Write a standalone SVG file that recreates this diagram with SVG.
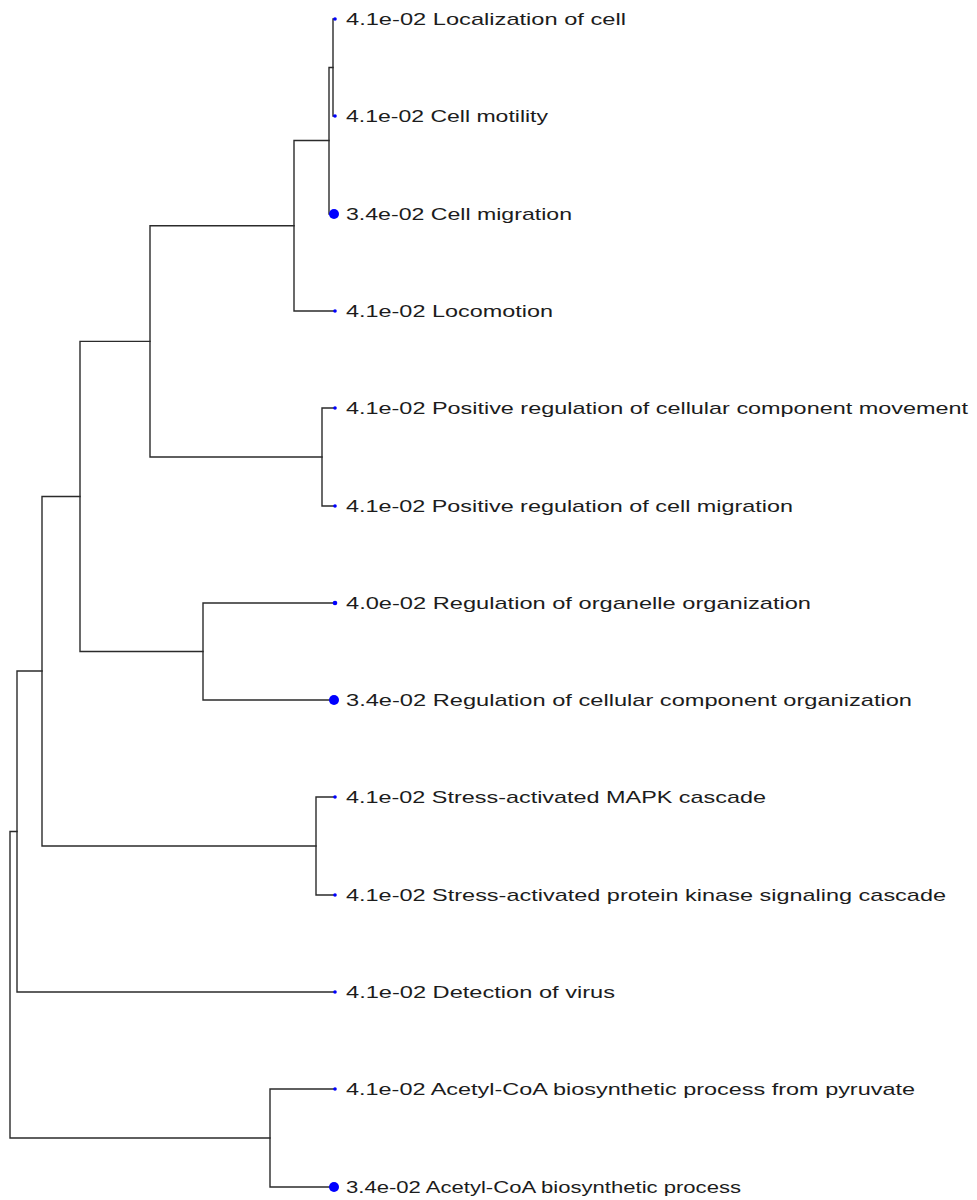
<svg xmlns="http://www.w3.org/2000/svg" width="977" height="1200" viewBox="0 0 977 1200">
  <style>
    .edge { fill: none; stroke: #2b2b2b; stroke-width: 1.4; stroke-linecap: square; }
    .dot { fill: #0000ff; }
    .lbl { font-family: "Liberation Sans", Arial, sans-serif; font-size: 17px; fill: #1c1c1c; }
  </style>
  <rect width="977" height="1200" fill="#ffffff"/>

  <!-- dendrogram branches -->
  <g id="connectors" class="edge">
    <path d="M335,19 H333 V116 H335"/>
    <path d="M333,67.5 H329 V214 H335"/>
    <path d="M329,140.5 H294 V311 H335"/>
    <path d="M335,408 H322 V506 H335"/>
    <path d="M294,225.75 H150 V457 H322"/>
    <path d="M335,603 H203 V700 H335"/>
    <path d="M150,341.4 H80 V651.5 H203"/>
    <path d="M335,797 H316 V895 H335"/>
    <path d="M80,496.5 H42 V846 H316"/>
    <path d="M42,671 H17 V992 H335"/>
    <path d="M335,1089 H270 V1187 H335"/>
    <path d="M17,831.5 H10 V1138 H270"/>
  </g>

  <!-- leaves: marker size follows the p-value -->
  <g id="leaf-localization-of-cell">
    <circle class="dot" cx="335" cy="19" r="1.8"/>
    <text class="lbl" x="346" y="25" textLength="280" lengthAdjust="spacingAndGlyphs">4.1e-02 Localization of cell</text>
  </g>
  <g id="leaf-cell-motility">
    <circle class="dot" cx="335" cy="116" r="1.8"/>
    <text class="lbl" x="346" y="122" textLength="202" lengthAdjust="spacingAndGlyphs">4.1e-02 Cell motility</text>
  </g>
  <g id="leaf-cell-migration">
    <circle class="dot" cx="334" cy="214" r="5"/>
    <text class="lbl" x="346" y="220" textLength="226" lengthAdjust="spacingAndGlyphs">3.4e-02 Cell migration</text>
  </g>
  <g id="leaf-locomotion">
    <circle class="dot" cx="335" cy="311" r="1.8"/>
    <text class="lbl" x="346" y="317" textLength="207" lengthAdjust="spacingAndGlyphs">4.1e-02 Locomotion</text>
  </g>
  <g id="leaf-pos-reg-cellular-component-movement">
    <circle class="dot" cx="335" cy="408" r="1.8"/>
    <text class="lbl" x="346" y="414" textLength="622" lengthAdjust="spacingAndGlyphs">4.1e-02 Positive regulation of cellular component movement</text>
  </g>
  <g id="leaf-pos-reg-cell-migration">
    <circle class="dot" cx="335" cy="506" r="1.8"/>
    <text class="lbl" x="346" y="512" textLength="447" lengthAdjust="spacingAndGlyphs">4.1e-02 Positive regulation of cell migration</text>
  </g>
  <g id="leaf-reg-organelle-organization">
    <circle class="dot" cx="335" cy="603" r="2.3"/>
    <text class="lbl" x="346" y="609" textLength="465" lengthAdjust="spacingAndGlyphs">4.0e-02 Regulation of organelle organization</text>
  </g>
  <g id="leaf-reg-cellular-component-organization">
    <circle class="dot" cx="334" cy="700" r="5"/>
    <text class="lbl" x="346" y="706" textLength="566" lengthAdjust="spacingAndGlyphs">3.4e-02 Regulation of cellular component organization</text>
  </g>
  <g id="leaf-stress-mapk-cascade">
    <circle class="dot" cx="335" cy="797" r="1.8"/>
    <text class="lbl" x="346" y="803" textLength="420" lengthAdjust="spacingAndGlyphs">4.1e-02 Stress-activated MAPK cascade</text>
  </g>
  <g id="leaf-stress-protein-kinase-cascade">
    <circle class="dot" cx="335" cy="895" r="1.8"/>
    <text class="lbl" x="346" y="901" textLength="600" lengthAdjust="spacingAndGlyphs">4.1e-02 Stress-activated protein kinase signaling cascade</text>
  </g>
  <g id="leaf-detection-of-virus">
    <circle class="dot" cx="335" cy="992" r="1.8"/>
    <text class="lbl" x="346" y="998" textLength="269" lengthAdjust="spacingAndGlyphs">4.1e-02 Detection of virus</text>
  </g>
  <g id="leaf-acetyl-coa-from-pyruvate">
    <circle class="dot" cx="335" cy="1089" r="1.8"/>
    <text class="lbl" x="346" y="1095" textLength="569" lengthAdjust="spacingAndGlyphs">4.1e-02 Acetyl-CoA biosynthetic process from pyruvate</text>
  </g>
  <g id="leaf-acetyl-coa-biosynthetic">
    <circle class="dot" cx="334" cy="1187" r="5"/>
    <text class="lbl" x="346" y="1193" textLength="395" lengthAdjust="spacingAndGlyphs">3.4e-02 Acetyl-CoA biosynthetic process</text>
  </g>
</svg>
